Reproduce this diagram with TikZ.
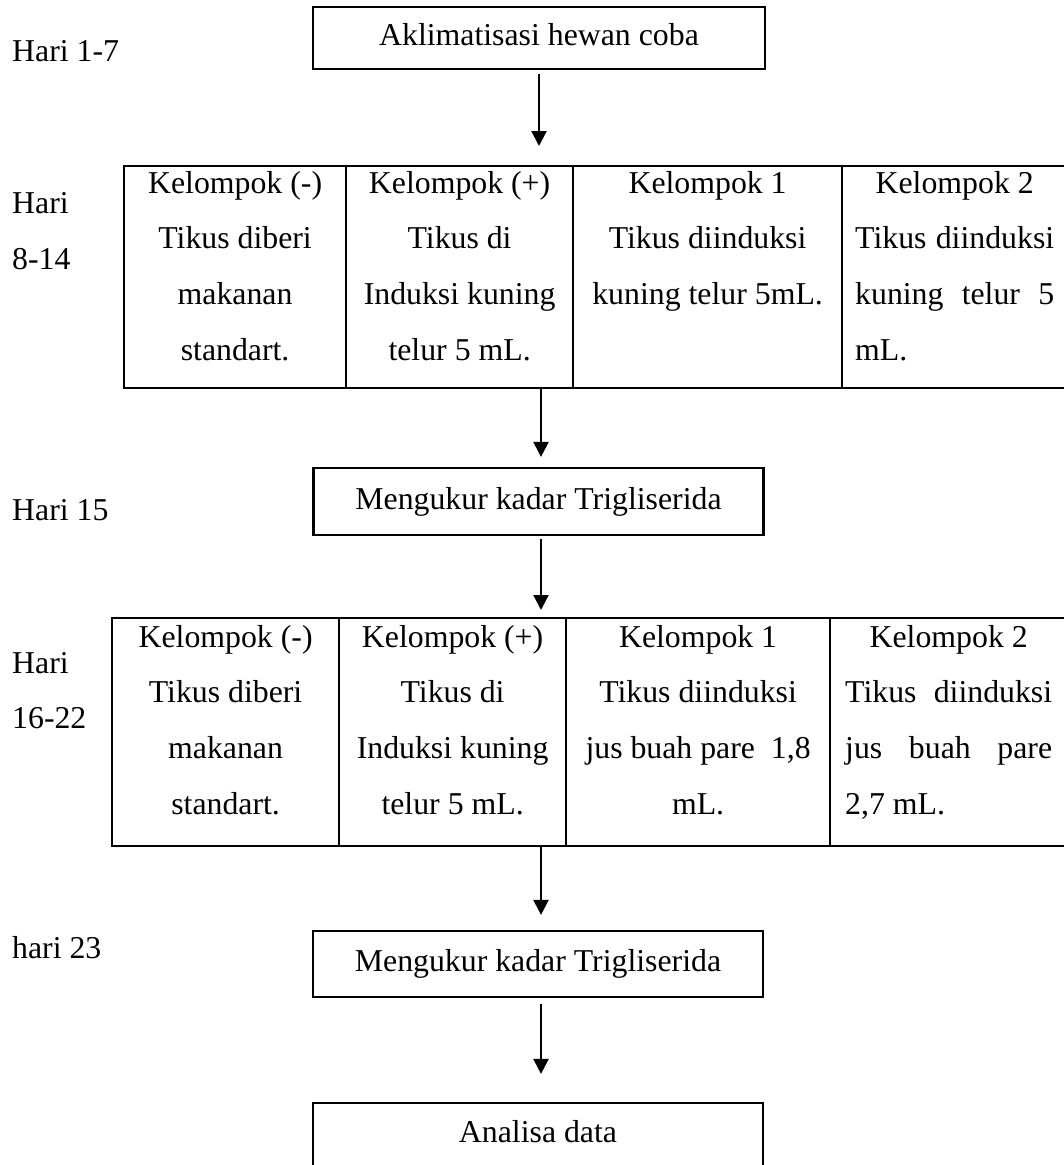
\documentclass[tikz,border=0pt]{standalone}
\usepackage{fontspec}
\setmainfont{Liberation Serif}
\usetikzlibrary{arrows.meta,calc}
\begin{document}
\begin{tikzpicture}[x=1pt,y=-1pt,
  font=\fontsize{31.8}{55.7}\selectfont,
  lw/.style={line width=2.2pt},
  box/.style={draw, lw, inner sep=0pt, text height=22pt, text depth=7pt},
  cell/.style={draw, lw, inner sep=0pt, anchor=north west},
  txt/.style={inner sep=0pt, anchor=base},
  arr/.style={lw, -{Triangle[width=15pt,length=15pt]}}
]
\useasboundingbox (0,0) rectangle (1064,1165);

% boxes
\node[box, minimum width=452pt, minimum height=62pt] (A) at (539,38) {Aklimatisasi hewan coba};
\node[box, minimum width=450pt, minimum height=67pt] (B) at (538.5,501.5) {Mengukur kadar Trigliserida};
\node[box, minimum width=450pt, minimum height=66pt] (C) at (538,964) {Mengukur kadar Trigliserida};
\node[box, minimum width=450pt, minimum height=64pt] (D) at (538,1135) {Analisa data};

% table 1
\node[cell, minimum width=222pt, minimum height=222pt] (t1c1) at (123,165) {};
\node[cell, minimum width=227pt, minimum height=222pt] (t1c2) at (345,165) {};
\node[cell, minimum width=269pt, minimum height=222pt] (t1c3) at (572,165) {};
\node[cell, minimum width=228pt, minimum height=222pt] (t1c4) at (841,165) {};

\node[txt] (t1c1x) at ($(t1c1.north)+(0pt,-28pt)$) {\begin{tabular}[t]{@{}c@{}}Kelompok (-)\\Tikus diberi\\makanan\\standart.\end{tabular}};
\node[txt] (t1c2x) at ($(t1c2.north)+(0pt,-28pt)$) {\begin{tabular}[t]{@{}c@{}}Kelompok (+)\\Tikus di\\Induksi kuning\\telur 5 mL.\end{tabular}};
\node[txt] (t1c3x) at ($(t1c3.north)+(0pt,-28pt)$) {\begin{tabular}[t]{@{}c@{}}Kelompok 1\\Tikus diinduksi\\kuning telur 5mL.\end{tabular}};
\node[txt, anchor=base west] (t1c4x) at ($(t1c4.north west)+(14pt,-28pt)$) {\begin{tabular}[t]{@{}l@{}}\makebox[199pt]{Kelompok 2}\\\makebox[199pt][s]{Tikus diinduksi}\\\makebox[199pt][s]{kuning telur 5}\\mL.\end{tabular}};

% table 2
\node[cell, minimum width=227pt, minimum height=228pt] (t2c1) at (111,617) {};
\node[cell, minimum width=227pt, minimum height=228pt] (t2c2) at (338,617) {};
\node[cell, minimum width=264pt, minimum height=228pt] (t2c3) at (565,617) {};
\node[cell, minimum width=238pt, minimum height=228pt] (t2c4) at (829,617) {};

\node[txt] (t2c1x) at ($(t2c1.north)+(0pt,-30pt)$) {\begin{tabular}[t]{@{}c@{}}Kelompok (-)\\Tikus diberi\\makanan\\standart.\end{tabular}};
\node[txt] (t2c2x) at ($(t2c2.north)+(0pt,-30pt)$) {\begin{tabular}[t]{@{}c@{}}Kelompok (+)\\Tikus di\\Induksi kuning\\telur 5 mL.\end{tabular}};
\node[txt] (t2c3x) at ($(t2c3.north)+(0pt,-30pt)$) {\begin{tabular}[t]{@{}c@{}}Kelompok 1\\Tikus diinduksi\\jus buah pare~~1,8\\mL.\end{tabular}};
\node[txt, anchor=base west] (t2c4x) at ($(t2c4.north west)+(16pt,-30pt)$) {\begin{tabular}[t]{@{}l@{}}\makebox[207pt]{Kelompok 2}\\\makebox[207pt][s]{Tikus diinduksi}\\\makebox[207pt][s]{jus buah pare}\\2,7 mL.\end{tabular}};

% day labels
\node[txt, anchor=base west] (L1) at (12,61) {Hari 1-7};
\node[txt, anchor=base west] (L2a) at (12,213) {Hari};
\node[txt, anchor=base west] (L2b) at (12,269) {8-14};
\node[txt, anchor=base west] (L3) at (12,520) {Hari 15};
\node[txt, anchor=base west] (L4a) at (12,673) {Hari};
\node[txt, anchor=base west] (L4b) at (12,728) {16-22};
\node[txt, anchor=base west] (L5) at (12,958) {hari 23};

% arrows
\coordinate (ax) at (541,0);
\draw[arr] ($(A.south)+(0pt,-4pt)$) -- ($(A.south |- t1c3.north)+(0pt,19pt)$);
\draw[arr] (ax |- t1c2.south) -- ($(ax |- B.north)+(0pt,10pt)$);
\draw[arr] ($(ax |- B.south)+(0pt,-3pt)$) -- ($(ax |- t2c2.north)+(0pt,7pt)$);
\draw[arr] (ax |- t2c3.south) -- ($(ax |- C.north)+(0pt,15pt)$);
\draw[arr] ($(ax |- C.south)+(0pt,-6pt)$) -- ($(ax |- D.north)+(0pt,28pt)$);
\end{tikzpicture}
\end{document}
